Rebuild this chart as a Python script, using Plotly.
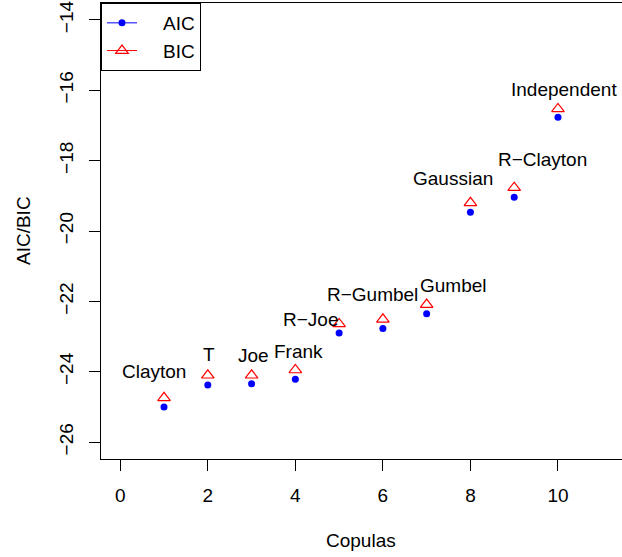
import plotly.graph_objects as go

copulas = ["Clayton", "T", "Joe", "Frank", "R\u2212Joe", "R\u2212Gumbel", "Gumbel",
           "Gaussian", "R\u2212Clayton", "Independent"]
x_index = [1, 2, 3, 4, 5, 6, 7, 8, 9, 10]
aic = [-25.00, -24.38, -24.34, -24.21, -22.90, -22.77, -22.35, -19.47, -19.04, -16.77]
bic = [-24.74, -24.10, -24.10, -23.95, -22.64, -22.51, -22.09, -19.20, -18.77, -16.53]

# label offsets in pixels relative to the BIC point (style only)
label_dx = [-10, 1, 2, 3, -29, -10, 27, -17, 28, 6]
label_dy = [26, 21, 20, 18, 4, 25, 19, 24, 28, 19]

FONT = "Liberation Sans, Arial, Helvetica, sans-serif"
FS = 19
NB = "\u00a0" * 4

fig = go.Figure()
fig.add_trace(go.Scatter(x=x_index, y=aic, mode="markers", name="AIC", showlegend=False,
                         marker=dict(symbol="circle", size=7, color="blue")))
fig.add_trace(go.Scatter(x=x_index, y=bic, mode="markers", name="BIC", showlegend=False,
                         marker=dict(symbol="triangle-up-open", size=11, color="red",
                                     line=dict(width=1.2))))
fig.add_trace(go.Scatter(x=[None], y=[None], mode="lines+markers", name=NB + "AIC",
                         line=dict(color="blue", width=1),
                         marker=dict(symbol="circle", size=7, color="blue")))
fig.add_trace(go.Scatter(x=[None], y=[None], mode="lines+markers", name=NB + "BIC",
                         line=dict(color="red", width=1),
                         marker=dict(symbol="triangle-up-open", size=11, color="red",
                                     line=dict(width=1.2))))

for xi, yi, lab, dx, dy in zip(x_index, bic, copulas, label_dx, label_dy):
    fig.add_annotation(x=xi, y=yi, text=lab, showarrow=False, xshift=dx, yshift=dy,
                       xanchor="center", yanchor="middle",
                       font=dict(family=FONT, size=FS, color="black"))

fig.add_annotation(text="Copulas", xref="paper", yref="paper", x=0.5, y=0, yshift=-81,
                   xshift=-1, showarrow=False, xanchor="center", yanchor="middle",
                   font=dict(family=FONT, size=FS, color="black"))
fig.add_annotation(text="AIC/BIC", xref="paper", yref="paper", x=0, y=0.5, xshift=-78,
                   showarrow=False, textangle=-90, xanchor="center", yanchor="middle",
                   font=dict(family=FONT, size=FS, color="black"))

fig.update_layout(
    width=622, height=557,
    margin=dict(l=101, r=0, t=3, b=98, autoexpand=False),
    paper_bgcolor="white", plot_bgcolor="white",
    font=dict(family=FONT, size=FS, color="black"),
    showlegend=True,
    legend=dict(x=0, y=1, xanchor="left", yanchor="top",
                bordercolor="black", borderwidth=1, bgcolor="white",
                font=dict(family=FONT, size=FS)),
    xaxis=dict(range=[-0.44, 11.44 + 1.0 / 43.85], tickvals=[0, 2, 4, 6, 8, 10],
               automargin=False,
               showgrid=False, zeroline=False, showline=True, mirror=True,
               linecolor="black", linewidth=1, ticks="outside", ticklen=11,
               tickcolor="black", tickfont=dict(size=FS), ticklabelstandoff=8),
    yaxis=dict(range=[-26.48, -13.52], tickvals=[-26, -24, -22, -20, -18, -16, -14],
               ticktext=["\u221226", "\u221224", "\u221222", "\u221220", "\u221218", "\u221216", "\u221214"],
               automargin=False,
               showgrid=False, zeroline=False, showline=True, mirror=True,
               linecolor="black", linewidth=1, ticks="outside", ticklen=11,
               tickcolor="black", tickangle=-90, tickfont=dict(size=FS), ticklabelstandoff=8),
)

fig.write_html("out.html", config={"displayModeBar": False},
               post_script="document.body.style.margin='0';document.body.style.overflow='hidden';")
